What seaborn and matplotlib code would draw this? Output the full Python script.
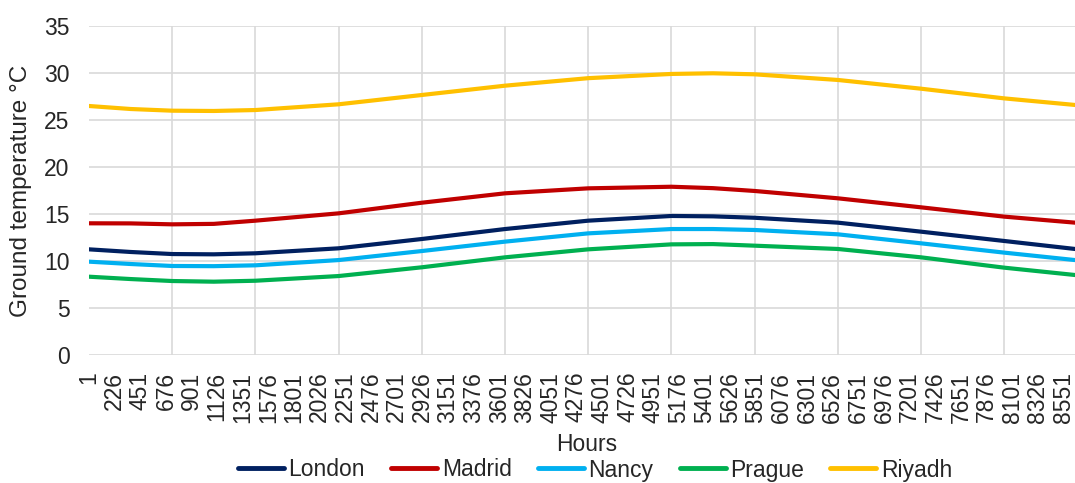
import numpy as np
import pandas as pd
import matplotlib
matplotlib.use("Agg")
import matplotlib.pyplot as plt
import seaborn as sns

# ---- data (hour of year -> ground temperature °C)
hours = [1, 366, 731, 1096, 1461, 2191, 2921, 3651, 4381, 5111, 5476, 5841, 6571, 7301, 8031, 8652]
london = [11.24, 10.96, 10.74, 10.71, 10.82, 11.35, 12.34, 13.40, 14.29, 14.79, 14.75, 14.60, 14.08, 13.12, 12.13, 11.28]
madrid = [14.01, 14.00, 13.90, 13.95, 14.29, 15.07, 16.20, 17.20, 17.73, 17.90, 17.75, 17.45, 16.67, 15.71, 14.72, 14.08]
nancy = [9.93, 9.68, 9.47, 9.45, 9.54, 10.10, 11.06, 12.06, 12.94, 13.40, 13.40, 13.30, 12.84, 11.88, 10.89, 10.10]
prague = [8.33, 8.08, 7.87, 7.80, 7.90, 8.40, 9.33, 10.39, 11.24, 11.77, 11.80, 11.63, 11.28, 10.39, 9.29, 8.51]
riyadh = [26.49, 26.17, 25.99, 25.96, 26.06, 26.67, 27.66, 28.65, 29.45, 29.90, 29.97, 29.86, 29.26, 28.33, 27.30, 26.60]

cities = ["London", "Madrid", "Nancy", "Prague", "Riyadh"]
colors = ["#002060", "#C00000", "#00B0F0", "#00B050", "#FFC000"]
tick_hours = list(range(1, 8552, 225))
grid_hours = list(range(1, 8761, 730))
y_ticks = [0, 5, 10, 15, 20, 25, 30, 35]

series = {"London": london, "Madrid": madrid, "Nancy": nancy, "Prague": prague, "Riyadh": riyadh}
df = pd.concat(
    [pd.DataFrame({"Hours": hours, "Temp": vals, "City": name}) for name, vals in series.items()],
    ignore_index=True,
)

sns.set_theme(style="white")
plt.rcParams["font.family"] = ["Liberation Sans", "DejaVu Sans"]
FS = 16.5

fig = plt.figure(figsize=(10.75, 4.83), dpi=100)
ax = fig.add_axes([89 / 1075, 1 - 355 / 483, 1 - 89 / 1075, 329 / 483])

sns.lineplot(
    data=df, x="Hours", y="Temp", hue="City", hue_order=cities,
    palette=dict(zip(cities, colors)), linewidth=3.0, ax=ax, legend=False,
    solid_capstyle="round",
)

ax.set_xlim(1, 8652)
ax.set_ylim(0, 35)
ax.set_yticks(y_ticks)
ax.set_xticks(tick_hours)
ax.set_xticklabels([str(h) for h in tick_hours], rotation=90, fontsize=FS)
ax.set_xticks(grid_hours, minor=True)
ax.tick_params(axis="both", which="both", length=0)
ax.tick_params(axis="y", labelsize=FS, pad=14)
ax.tick_params(axis="x", pad=12)

ax.grid(False)
ax.grid(True, axis="y", which="major", color="#D9D9D9", linewidth=1.2)
ax.grid(True, axis="x", which="minor", color="#D9D9D9", linewidth=1.2)
ax.set_axisbelow(True)
for s in ax.spines.values():
    s.set_visible(False)

ax.set_xlabel("Hours", fontsize=FS)
ax.set_ylabel("Ground temperature °C", fontsize=17.5)
ax.xaxis.set_label_coords(0.505, -0.237)
ax.yaxis.set_label_coords(-0.058, 0.5)

handles = [plt.Line2D([0], [0], color=c, linewidth=3.5) for c in colors]
fig.legend(
    handles, cities, loc="center", bbox_to_anchor=(595 / 1075, 1 - 470 / 483),
    ncol=5, frameon=False, fontsize=FS, handlelength=2.0, handletextpad=0.2,
    columnspacing=1.15,
)

fig.savefig("out.png", dpi=100)
